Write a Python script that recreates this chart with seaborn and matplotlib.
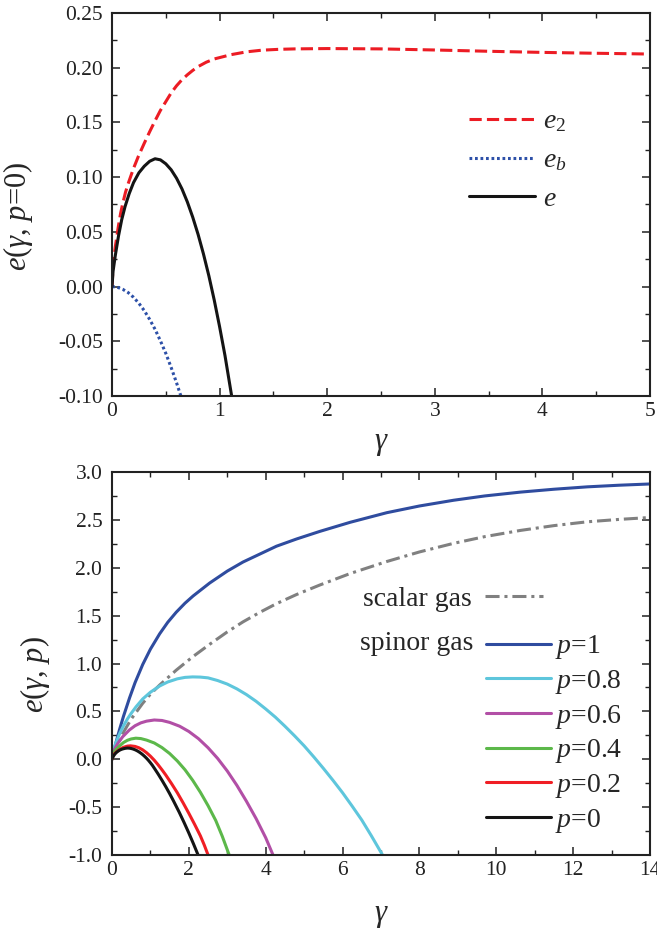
import matplotlib
matplotlib.use("Agg")
import matplotlib.pyplot as plt
import seaborn as sns
from matplotlib.ticker import MultipleLocator, FormatStrFormatter

# ---------------- data ----------------
# top panel: p = 0
gamma_e2 = [0, 0.01, 0.03, 0.059, 0.08, 0.1, 0.125, 0.15, 0.175, 0.2, 0.245, 0.3,
            0.35, 0.4, 0.45, 0.5, 0.55, 0.6, 0.65, 0.7, 0.75, 0.8, 0.875, 0.95,
            1.03, 1.11, 1.25, 1.39, 1.55, 1.7, 2.0, 2.5, 3.0, 3.51, 4.0, 4.5, 5.0]
e2 = [0, 0.018, 0.036, 0.055, 0.067, 0.076, 0.086, 0.094, 0.101, 0.108, 0.119, 0.131,
      0.1415, 0.1515, 0.161, 0.169, 0.177, 0.1835, 0.189, 0.1935, 0.1975, 0.201,
      0.205, 0.208, 0.210, 0.212, 0.2145, 0.216, 0.2168, 0.2172, 0.2175, 0.2172,
      0.2162, 0.2150, 0.2140, 0.2132, 0.2125]

gamma_eb = [0, 0.05, 0.1, 0.15, 0.2, 0.25, 0.3, 0.35, 0.4, 0.45, 0.5, 0.55, 0.6,
            0.64, 0.7]
eb = [0, -0.0006, -0.0025, -0.0055, -0.0098, -0.0153, -0.022, -0.030, -0.039,
      -0.0496, -0.061, -0.074, -0.088, -0.100, -0.120]

gamma_p0 = [0, 0.01, 0.03, 0.06, 0.09, 0.121, 0.16, 0.2, 0.25, 0.3, 0.35, 0.4, 0.45,
            0.5, 0.55, 0.6, 0.65, 0.7, 0.75, 0.8, 0.85, 0.9, 0.95, 1.0, 1.05, 1.112,
            1.2, 1.3, 1.4, 1.5, 1.6, 1.75, 1.875, 2.0, 2.12, 2.24]
e_p0 = [0, 0.014, 0.028, 0.046, 0.061, 0.073, 0.085, 0.095, 0.104, 0.110, 0.1145,
        0.1168, 0.1158, 0.1122, 0.1067, 0.099, 0.0893, 0.0774, 0.0635, 0.0477, 0.0298,
        0.0099, -0.0123, -0.0367, -0.063, -0.100, -0.154, -0.219, -0.287, -0.359,
        -0.435, -0.554, -0.660, -0.771, -0.883, -1.0]

# bottom panel
gamma_sc = [0, 0.05, 0.12, 0.28, 0.5, 0.8, 1.0, 1.24, 1.67, 2.1, 2.54, 3.0, 3.41,
            3.85, 4.28, 4.8, 5.41, 6.2, 7.15, 8.0, 8.89, 9.7, 10.63, 11.5, 12.37,
            13.2, 14.0]
e_sc = [0, 0.06, 0.13, 0.27, 0.42, 0.585, 0.68, 0.775, 0.93, 1.07, 1.2, 1.33, 1.435,
        1.535, 1.625, 1.72, 1.82, 1.94, 2.065, 2.165, 2.255, 2.325, 2.39, 2.44, 2.48,
        2.505, 2.525]

gamma_p1 = [0, 0.05, 0.1, 0.196, 0.3, 0.456, 0.6, 0.8, 1.0, 1.24, 1.45, 1.67, 1.9,
            2.11, 2.54, 3.0, 3.41, 4.28, 4.8, 5.41, 6.2, 7.15, 8.0, 8.89, 9.7, 10.63,
            11.5, 12.37, 13.2, 14.0]
e_p1 = [0, 0.09, 0.17, 0.31, 0.45, 0.64, 0.80, 0.99, 1.15, 1.31, 1.43, 1.535, 1.63,
        1.705, 1.84, 1.965, 2.06, 2.225, 2.30, 2.38, 2.475, 2.575, 2.645, 2.705, 2.75,
        2.79, 2.82, 2.845, 2.862, 2.875]

gamma_p08 = [0, 0.05, 0.1, 0.196, 0.3, 0.4, 0.5, 0.63, 0.8, 1.0, 1.24, 1.45, 1.7,
             1.9, 2.1, 2.3, 2.5, 2.75, 3.0, 3.25, 3.5, 3.75, 4.0, 4.25, 4.5, 4.75,
             5.0, 5.25, 5.5, 5.75, 6.0, 6.25, 6.5, 6.75, 7.04]
e_p08 = [0, 0.11, 0.17, 0.265, 0.35, 0.42, 0.48, 0.55, 0.63, 0.70, 0.765, 0.807, 0.84,
         0.855, 0.86, 0.858, 0.85, 0.822, 0.785, 0.735, 0.675, 0.605, 0.525, 0.44,
         0.345, 0.245, 0.14, 0.025, -0.095, -0.22, -0.35, -0.49, -0.635, -0.80, -1.0]

gamma_p06 = [0, 0.05, 0.1, 0.15, 0.28, 0.45, 0.6, 0.75, 0.9, 1.1, 1.3, 1.5, 1.76,
             2.0, 2.25, 2.5, 2.75, 3.0, 3.25, 3.5, 3.75, 4.0, 4.19]
e_p06 = [0, 0.09, 0.13, 0.165, 0.236, 0.305, 0.35, 0.38, 0.398, 0.41, 0.405, 0.385,
         0.345, 0.29, 0.215, 0.12, 0.008, -0.123, -0.273, -0.44, -0.62, -0.82, -1.0]

gamma_p04 = [0, 0.05, 0.1, 0.2, 0.3, 0.4, 0.5, 0.62, 0.75, 0.9, 1.1, 1.3, 1.5, 1.7,
             1.9, 2.1, 2.3, 2.5, 2.7, 2.87, 3.05]
e_p04 = [0, 0.07, 0.10, 0.14, 0.175, 0.198, 0.212, 0.22, 0.216, 0.20, 0.17, 0.122,
         0.06, -0.018, -0.11, -0.22, -0.345, -0.485, -0.64, -0.805, -1.0]

gamma_p02 = [0, 0.03, 0.07, 0.11, 0.2, 0.3, 0.4, 0.48, 0.6, 0.7, 0.8, 0.9, 1.0, 1.1,
             1.2, 1.3, 1.4, 1.55, 1.7, 1.85, 2.0, 2.15, 2.3, 2.4, 2.5]
e_p02 = [0, 0.04, 0.06, 0.075, 0.103, 0.125, 0.137, 0.14, 0.134, 0.12, 0.098, 0.068,
         0.032, -0.01, -0.058, -0.11, -0.165, -0.255, -0.35, -0.455, -0.565, -0.68,
         -0.80, -0.895, -1.0]

p_labels = ["1", "0.8", "0.6", "0.4", "0.2", "0"]
p_colors = ["#2f4c9f", "#5ec6dc", "#b24fa6", "#5cb84a", "#f01e24", "#141414"]

# ---------------- style ----------------
sns.set_theme(style="ticks")
plt.rcParams["font.family"] = ["Liberation Serif", "DejaVu Serif"]
plt.rcParams.update({
    "mathtext.fontset": "custom",
    "mathtext.rm": "Liberation Serif",
    "mathtext.it": "Liberation Serif:italic",
    "mathtext.bf": "Liberation Serif:bold",
    "axes.unicode_minus": False,
    "xtick.direction": "in",
    "ytick.direction": "in",
    "xtick.top": True,
    "ytick.right": True,
    "xtick.major.size": 6,
    "ytick.major.size": 6,
    "xtick.minor.size": 3.5,
    "ytick.minor.size": 3.5,
    "xtick.major.width": 1.1,
    "ytick.major.width": 1.1,
    "xtick.minor.width": 1.0,
    "ytick.minor.width": 1.0,
    "axes.linewidth": 1.5,
    "axes.edgecolor": "#222222",
    "xtick.color": "#222222",
    "ytick.color": "#222222",
    "xtick.labelsize": 15.5,
    "ytick.labelsize": 15.5,
})

W, H = 657, 930
fig = plt.figure(figsize=(W / 100, H / 100), dpi=100)
ax1 = fig.add_axes([112 / W, (H - 396) / H, 538 / W, 383 / H])
ax2 = fig.add_axes([112 / W, (H - 855) / H, 538 / W, 383 / H])

LW = 2.2

# ---------------- top panel ----------------
sns.lineplot(x=gamma_e2, y=e2, ax=ax1, color="#ec1c24", lw=LW,
             linestyle=(0, (4, 1.7)), legend=False)
sns.lineplot(x=gamma_eb, y=eb, ax=ax1, color="#2d50a8", lw=LW,
             linestyle=(0, (0.9, 0.9)), legend=False)
sns.lineplot(x=gamma_p0, y=e_p0, ax=ax1, color="#141414", lw=LW, legend=False)
top_lines = ax1.get_lines()[:3]

ax1.set_xlim(0, 5)
ax1.set_ylim(-0.10, 0.25)
ax1.xaxis.set_major_locator(MultipleLocator(1))
ax1.xaxis.set_minor_locator(MultipleLocator(0.5))
ax1.yaxis.set_major_locator(MultipleLocator(0.05))
ax1.yaxis.set_minor_locator(MultipleLocator(0.025))
ax1.yaxis.set_major_formatter(FormatStrFormatter("%.2f"))
ax1.set_xlabel(r"$\gamma$", fontsize=22)
ax1.set_ylabel(r"$e$($\gamma$, $p$=0)", fontsize=22)
ax1.xaxis.set_label_coords(0.5, -0.085)
ax1.yaxis.set_label_coords(-0.143, 0.47)
ax1.tick_params(axis="x", which="both", pad=4)
ax1.tick_params(axis="y", which="both", pad=6.5)

ax1.legend(top_lines, [r"$e_2$", r"$e_b$", r"$e$"], loc="upper left",
           bbox_to_anchor=(0.664, 0.749), frameon=False, fontsize=20,
           handlelength=2.35, handletextpad=0.3, labelspacing=0.48,
           borderpad=0, borderaxespad=0)

# ---------------- bottom panel ----------------
sns.lineplot(x=gamma_sc, y=e_sc, ax=ax2, color="#808080", lw=LW,
             linestyle=(0, (4.6, 1.6, 1.0, 1.6)), legend=False)
p_data = [(gamma_p1, e_p1), (gamma_p08, e_p08), (gamma_p06, e_p06),
          (gamma_p04, e_p04), (gamma_p02, e_p02), (gamma_p0, e_p0)]
for (gx, gy), col in zip(p_data, p_colors):
    sns.lineplot(x=gx, y=gy, ax=ax2, color=col, lw=LW, legend=False)
lines2 = ax2.get_lines()

ax2.set_xlim(0, 14)
ax2.set_ylim(-1.0, 3.0)
ax2.xaxis.set_major_locator(MultipleLocator(2))
ax2.xaxis.set_minor_locator(MultipleLocator(1))
ax2.yaxis.set_major_locator(MultipleLocator(0.5))
ax2.yaxis.set_minor_locator(MultipleLocator(0.25))
ax2.yaxis.set_major_formatter(FormatStrFormatter("%.1f"))
ax2.set_xlabel(r"$\gamma$", fontsize=22)
ax2.set_ylabel(r"$e$($\gamma$, $p$)", fontsize=22)
ax2.xaxis.set_label_coords(0.5, -0.12)
ax2.yaxis.set_label_coords(-0.112, 0.47)
ax2.tick_params(axis="x", which="both", pad=4)
ax2.tick_params(axis="y", which="both", pad=7)

leg_sc = ax2.legend([lines2[0]], ["scalar gas"], loc="upper right",
                    bbox_to_anchor=(0.801, 0.702), frameon=False, fontsize=20,
                    markerfirst=False, handlelength=2.1, handletextpad=0.45,
                    borderpad=0, borderaxespad=0)
ax2.add_artist(leg_sc)
ax2.legend(lines2[1:], [r"$p$=" + s for s in p_labels], loc="upper left",
           bbox_to_anchor=(0.695, 0.579), frameon=False, fontsize=20,
           handlelength=2.35, handletextpad=0.12, labelspacing=0.24,
           borderpad=0, borderaxespad=0)
ax2.text(0.671, 0.5535, "spinor gas", transform=ax2.transAxes, fontsize=20,
         ha="right", va="center")

fig.savefig("out.png", dpi=100)
